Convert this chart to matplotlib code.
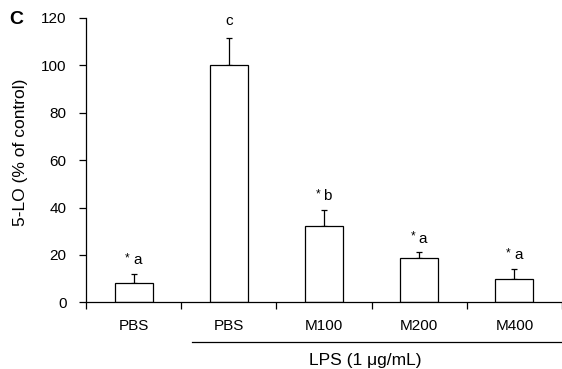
import matplotlib.pyplot as plt

# data
groups = ["PBS", "PBS", "M100", "M200", "M400"]
values = [8, 100, 32, 18.7, 10]
errors = [4, 11.5, 7, 2.4, 4.2]
letters = ["* a", "c", "* b", "* a", "* a"]

plt.rcParams["font.family"] = ["Liberation Sans", "DejaVu Sans"]

fig = plt.figure(figsize=(5.62, 3.69), dpi=100)
ax = fig.add_axes([86 / 562, (369 - 302.3) / 369, (562 - 86) / 562, (302.3 - 17.9) / 369])

pos = [i + 0.5 for i in range(len(values))]
ax.bar(pos, values, width=0.4, color="white", edgecolor="black", linewidth=0.9, zorder=2)
ax.errorbar(pos, values, yerr=[[0] * len(errors), errors], fmt="none",
            ecolor="black", elinewidth=0.9, capsize=2.5, capthick=0.9, zorder=1)

# significance letters
for x, v, e, t in zip(pos, values, errors, letters):
    base = v + e + 4.0
    if t.startswith("*"):
        ax.text(x - 0.065, base + 1.3, "*", ha="center", va="baseline", fontsize=8.5)
        ax.text(x - 0.005, base, t[2:], ha="left", va="baseline", fontsize=11)
    else:
        ax.text(x, base + 1.6, t, ha="center", va="baseline", fontsize=11)

ax.set_xlim(0, 5)
ax.set_ylim(0, 120)
ax.set_yticks(range(0, 121, 20))
ax.set_xticks(range(0, 6))
ax.set_xticklabels([])
ax.tick_params(axis="both", direction="out", length=5, width=0.9, labelsize=11)
ax.tick_params(axis="y", pad=9)
for x, g in zip(pos, groups):
    ax.text(x, -9.9, g, ha="center", va="center", fontsize=11)

ax.spines["top"].set_visible(False)
ax.spines["right"].set_visible(False)
for s in ["left", "bottom"]:
    ax.spines[s].set_linewidth(0.9)

fig.text(20 / 562, 1 - 152 / 369, "5-LO (% of control)", rotation=90,
         ha="center", va="center", fontsize=12.5)

# LPS bracket
ax.plot([1.11, 5], [-16.9, -16.9], color="black", lw=0.9, clip_on=False)
ax.text(2.93, -21.3, "LPS (1 \u03bcg/mL)", ha="center", va="top", fontsize=12.5)

fig.text(9 / 562, 1 - 20 / 369, "C", fontsize=14, fontweight="bold", va="center")

fig.savefig("out.png", dpi=100)
